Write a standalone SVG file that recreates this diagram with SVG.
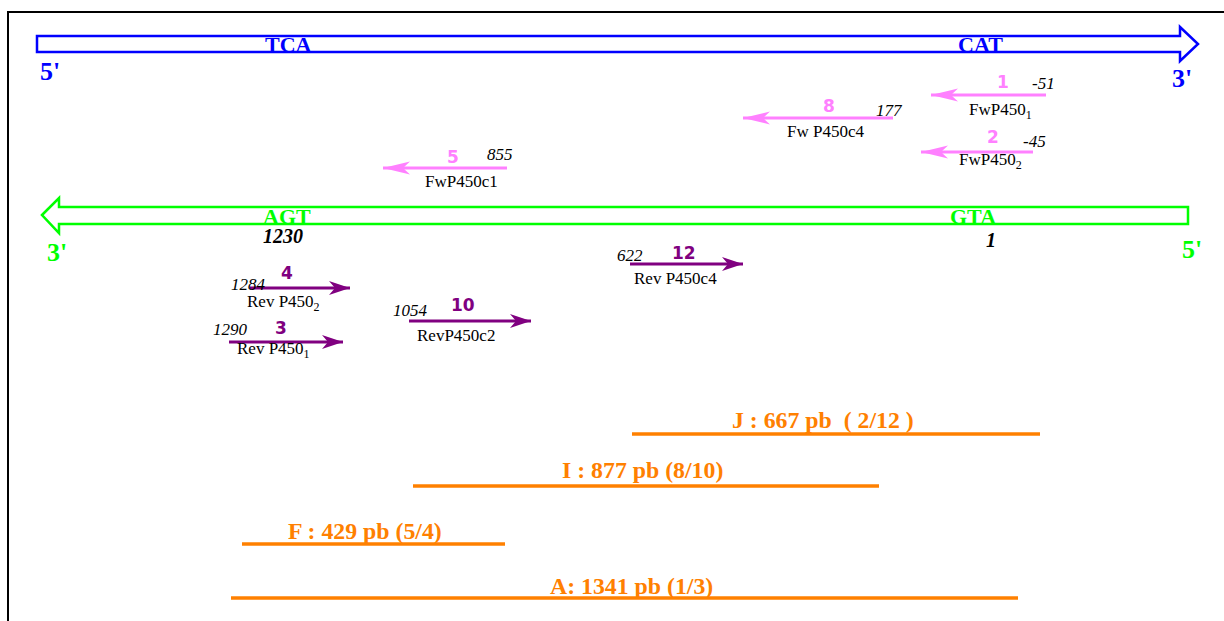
<svg xmlns="http://www.w3.org/2000/svg" width="1224" height="621" viewBox="0 0 1224 621">
<style>
.strand{fill:#fff;stroke-width:2.5}
.cod{font-family:"Liberation Serif",serif;font-weight:bold;font-size:22px}
.end{font-family:"Liberation Serif",serif;font-weight:bold;font-size:26px}
.num{font-family:"DejaVu Sans",sans-serif;font-weight:bold;font-size:17px}
.pos{font-family:"Liberation Serif",serif;font-style:italic;font-size:17px;fill:#000}
.bpos{font-family:"Liberation Serif",serif;font-style:italic;font-weight:bold;font-size:20px;fill:#000}
.lab{font-family:"Liberation Serif",serif;font-size:17px;fill:#000}
.frag{font-family:"Liberation Serif",serif;font-weight:bold;font-size:23.8px;fill:#ff8000}
.pink{stroke:#ff80ff;stroke-width:3;fill:none}
.purp{stroke:#800080;stroke-width:3;fill:none}
.orng{stroke:#ff8000;stroke-width:3.5;fill:none}
</style>
<defs>
<marker id="hp" markerUnits="userSpaceOnUse" viewBox="-30 -10 32 20" markerWidth="32" markerHeight="20" refX="0" refY="0" orient="auto">
<path d="M0,0 L-27,-6.5 L-20,0 L-27,6.5 Z" fill="#ff80ff"/>
</marker>
<marker id="hv" markerUnits="userSpaceOnUse" viewBox="-30 -10 32 20" markerWidth="32" markerHeight="20" refX="0" refY="0" orient="auto">
<path d="M0,0 L-21,-7 L-15,0 L-21,7 Z" fill="#800080"/>
</marker>
</defs>
<rect x="0" y="0" width="1224" height="621" fill="#fff"/>
<rect x="8" y="12" width="1240" height="700" fill="none" stroke="#000" stroke-width="2"/>

<g id="strand-top">
<polygon class="strand" stroke="#0000ff" points="37,36 1180,36 1180,27 1198,44 1180,61 1180,52 37,52"/>
<text class="cod" fill="#0000ff" x="265" y="52">TCA</text>
<text class="cod" fill="#0000ff" x="958" y="52">CAT</text>
<text class="end" fill="#0000ff" x="40" y="80">5'</text>
<text class="end" fill="#0000ff" x="1172" y="87">3'</text>
</g>

<g id="strand-bottom">
<polygon class="strand" stroke="#00ff00" points="42,215 59,198 59,207 1188,207 1188,224 59,224 59,233"/>
<text class="cod" fill="#00ff00" x="263" y="224">AGT</text>
<text class="cod" fill="#00ff00" x="950" y="224">GTA</text>
<text class="bpos" x="263" y="243">1230</text>
<text class="bpos" x="986" y="247">1</text>
<text class="end" fill="#00ff00" x="47" y="261">3'</text>
<text class="end" fill="#00ff00" x="1182" y="258">5'</text>
</g>

<g id="connectors">
<line class="pink" x1="1046" y1="95" x2="931" y2="95" marker-end="url(#hp)"/>
<line class="pink" x1="893" y1="118" x2="743" y2="118" marker-end="url(#hp)"/>
<line class="pink" x1="1033" y1="152" x2="921" y2="152" marker-end="url(#hp)"/>
<line class="pink" x1="507" y1="168" x2="383" y2="168" marker-end="url(#hp)"/>
<line class="purp" x1="630" y1="264" x2="743" y2="264" marker-end="url(#hv)"/>
<line class="purp" x1="409" y1="321" x2="531" y2="321" marker-end="url(#hv)"/>
<line class="purp" x1="250" y1="288" x2="350" y2="288" marker-end="url(#hv)"/>
<line class="purp" x1="229" y1="342" x2="343" y2="342" marker-end="url(#hv)"/>
</g>

<g id="primer-1">
<text class="num" fill="#ff80ff" x="997" y="88">1</text>
<text class="pos" x="1032" y="89">-51</text>
<text class="lab" x="969" y="115">FwP450<tspan font-size="12" dy="4">1</tspan></text>
</g>
<g id="primer-8">
<text class="num" fill="#ff80ff" x="823" y="112">8</text>
<text class="pos" x="876" y="116">177</text>
<text class="lab" x="787" y="137">Fw P450c4</text>
</g>
<g id="primer-2">
<text class="num" fill="#ff80ff" x="987" y="143">2</text>
<text class="pos" x="1023" y="147">-45</text>
<text class="lab" x="959" y="165">FwP450<tspan font-size="12" dy="4">2</tspan></text>
</g>
<g id="primer-5">
<text class="num" fill="#ff80ff" x="447" y="163">5</text>
<text class="pos" x="487" y="160">855</text>
<text class="lab" x="425" y="187">FwP450c1</text>
</g>
<g id="primer-12">
<text class="num" fill="#800080" x="672" y="259">12</text>
<text class="pos" x="617" y="261">622</text>
<text class="lab" x="634" y="284">Rev P450c4</text>
</g>
<g id="primer-10">
<text class="num" fill="#800080" x="451" y="311">10</text>
<text class="pos" x="393" y="316">1054</text>
<text class="lab" x="417" y="341">RevP450c2</text>
</g>
<g id="primer-4">
<text class="num" fill="#800080" x="281" y="279">4</text>
<text class="pos" x="231" y="290">1284</text>
<text class="lab" x="247" y="307">Rev P450<tspan font-size="12" dy="4">2</tspan></text>
</g>
<g id="primer-3">
<text class="num" fill="#800080" x="275" y="334">3</text>
<text class="pos" x="213" y="335">1290</text>
<text class="lab" x="237" y="354">Rev P450<tspan font-size="12" dy="4">1</tspan></text>
</g>

<g id="fragment-J">
<line class="orng" x1="632" y1="434" x2="1040" y2="434"/>
<text class="frag" x="732" y="428" xml:space="preserve">J : 667 pb  ( 2/12 )</text>
</g>
<g id="fragment-I">
<line class="orng" x1="413" y1="486" x2="879" y2="486"/>
<text class="frag" x="562" y="478">I : 877 pb (8/10)</text>
</g>
<g id="fragment-F">
<line class="orng" x1="242" y1="544" x2="505" y2="544"/>
<text class="frag" x="288" y="539">F : 429 pb (5/4)</text>
</g>
<g id="fragment-A">
<line class="orng" stroke-width="4" x1="231" y1="598" x2="1018" y2="598"/>
<text class="frag" x="550" y="594">A: 1341 pb (1/3)</text>
</g>
</svg>
